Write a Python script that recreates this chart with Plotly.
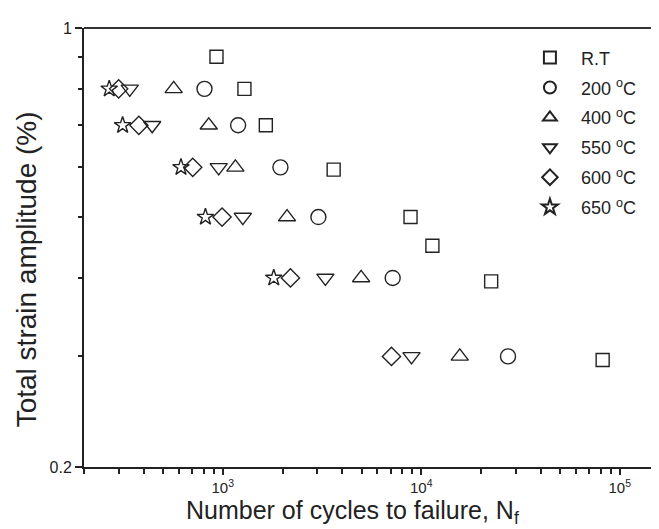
import plotly.graph_objects as go

# Data (cycles to failure, total strain amplitude %)
rt_n = [930, 1286, 1648, 3620, 8830, 11380, 22500, 82000]
rt_e = [0.9, 0.8, 0.7, 0.595, 0.5, 0.45, 0.395, 0.296]
t200_n = [809, 1195, 1953, 3033, 7180, 27360]
t200_e = [0.8, 0.7, 0.6, 0.5, 0.4, 0.3]
t400_n = [566, 850, 1158, 2108, 4978, 15630]
t400_e = [0.8, 0.7, 0.6, 0.5, 0.4, 0.3]
t550_n = [340, 441, 954, 1262, 3289, 8930]
t550_e = [0.8, 0.7, 0.6, 0.5, 0.4, 0.3]
t600_n = [299, 378, 706, 992, 2193, 7080]
t600_e = [0.8, 0.7, 0.6, 0.5, 0.4, 0.3]
t650_n = [268, 313, 616, 818, 1807]
t650_e = [0.8, 0.7, 0.6, 0.5, 0.4]

labels = ["R.T", "200 <sup>o</sup>C", "400 <sup>o</sup>C", "550 <sup>o</sup>C",
          "600 <sup>o</sup>C", "650 <sup>o</sup>C"]
x_major = [1e3, 1e4, 1e5]
x_major_text = ["10<sup>3</sup>", "10<sup>4</sup>", "10<sup>5</sup>"]
y_major = [0.2, 1]
y_major_text = ["0.2", "1"]

series = [
    (rt_n, rt_e, "square-open", 13),
    (t200_n, t200_e, "circle-open", 15),
    (t400_n, t400_e, "triangle-up-open", 15),
    (t550_n, t550_e, "triangle-down-open", 15),
    (t600_n, t600_e, "diamond-open", 14),
    (t650_n, t650_e, "star-open", 12.5),
]

FONT = "Liberation Sans, Arial, sans-serif"
INK = "#222222"

fig = go.Figure()
for i, (xs, ys, sym, sz) in enumerate(series):
    fig.add_trace(go.Scatter(
        x=xs, y=ys, mode="markers", name=labels[i], legendgroup=str(i),
        marker=dict(symbol=sym, size=sz, color=INK, line=dict(width=1.4, color=INK)),
    ))

x_minor = [m * 10 ** d for d in (2, 3, 4, 5) for m in range(2, 10) if 200 <= m * 10 ** d <= 175000]
y_minor = [0.3, 0.4, 0.5, 0.6, 0.7, 0.8, 0.9]

fig.update_layout(
    width=659, height=529,
    margin=dict(l=76, r=0, t=20, b=70),
    paper_bgcolor="white", plot_bgcolor="white",
    font=dict(family=FONT, color=INK),
    showlegend=True,
    legend=dict(x=0.746, y=0.974, xanchor="left", yanchor="top",
                font=dict(size=18, family=FONT, color=INK),
                itemwidth=52, itemsizing="constant", tracegroupgap=3.5,
                bgcolor="rgba(0,0,0,0)"),
    xaxis=dict(type="log", range=[2.30103, 5.238], showgrid=False, zeroline=False,
               showline=True, linecolor=INK, linewidth=2,
               tickmode="array", tickvals=x_major, ticktext=x_major_text,
               ticks="outside", ticklen=6, tickwidth=1.5, tickcolor=INK,
               tickfont=dict(size=15, family=FONT, color=INK),
               minor=dict(tickmode="array", tickvals=x_minor, ticks="outside",
                          ticklen=5, tickwidth=1.5, tickcolor=INK, showgrid=False)),
    yaxis=dict(type="log", range=[-0.69897, 0], showgrid=False, zeroline=False,
               showline=True, linecolor=INK, linewidth=2,
               tickmode="array", tickvals=y_major, ticktext=y_major_text,
               ticks="outside", ticklen=7, tickwidth=1.5, tickcolor=INK,
               tickfont=dict(size=16, family=FONT, color=INK),
               minor=dict(tickmode="array", tickvals=y_minor, ticks="outside",
                          ticklen=4, tickwidth=1.5, tickcolor=INK, showgrid=False)),
    shapes=[dict(type="line", xref="paper", yref="paper", x0=0, x1=1, y0=1, y1=1,
                 line=dict(color="#333333", width=2))],
    annotations=[
        dict(text="Number of cycles to failure, N<sub>f</sub>", xref="paper", yref="paper",
             x=0.46, y=-0.102, xanchor="center", yanchor="middle", showarrow=False,
             font=dict(size=25, family=FONT, color=INK)),
        dict(text="Total strain amplitude (%)", xref="paper", yref="paper",
             x=-0.098, y=0.45, xanchor="center", yanchor="middle", showarrow=False,
             textangle=-90, font=dict(size=28, family=FONT, color=INK)),
    ],
)

fig.write_html("out.html")
